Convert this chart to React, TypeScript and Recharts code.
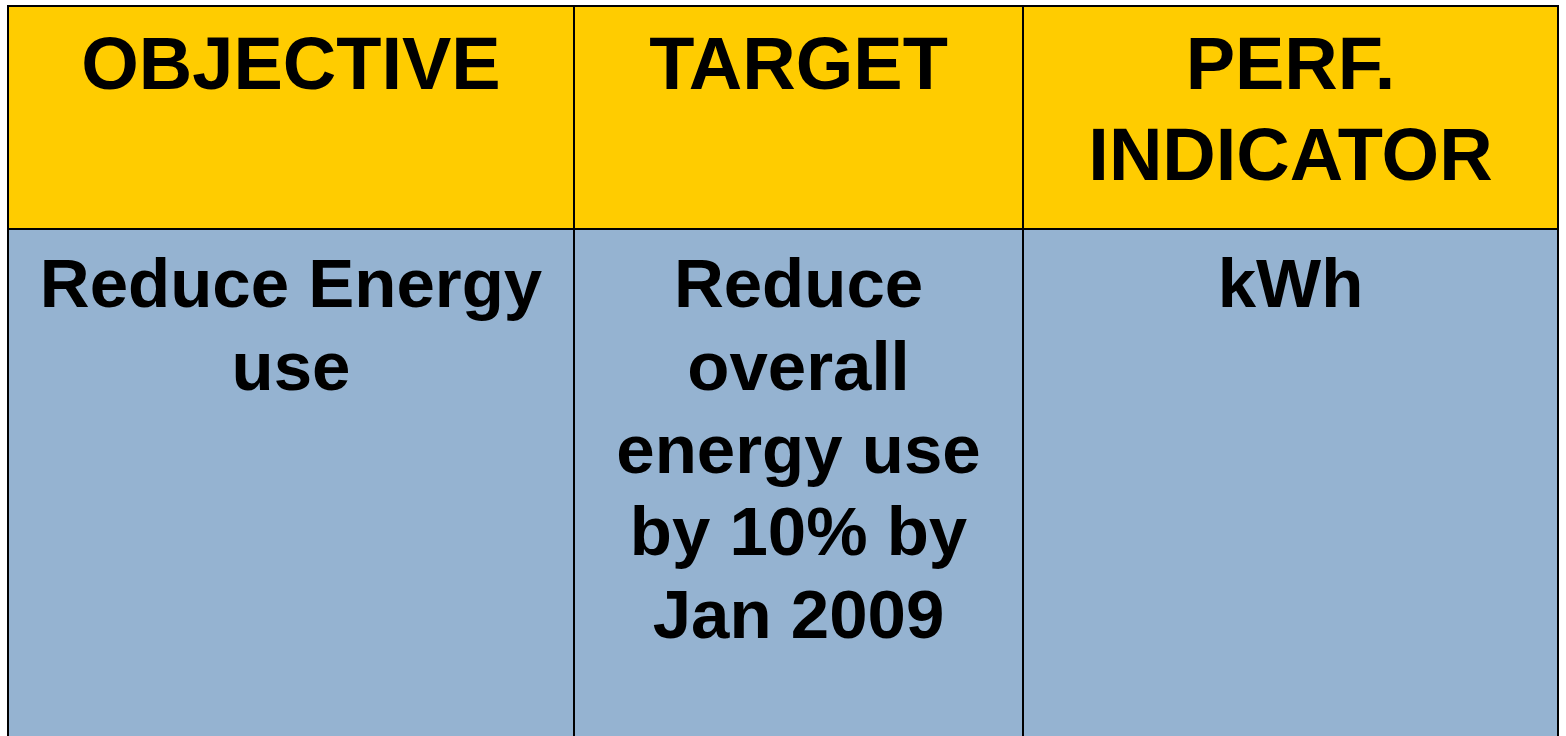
import React from 'react';
import { ComposedChart, XAxis, YAxis, ReferenceArea } from 'recharts';

// table structure: column titles, cell text (one entry per line), column widths and row heights
const columnTitles = [['OBJECTIVE'], ['TARGET'], ['PERF.', 'INDICATOR']];
const columnBody = [
  ['Reduce Energy', 'use'],
  ['Reduce', 'overall', 'energy use', 'by 10% by', 'Jan 2009'],
  ['kWh'],
];
const columnWidths = [566, 449, 535];
const rowHeights = [223, 520];

const FONT = '"Liberation Sans", Arial, sans-serif';

const CellText = ({ viewBox, lines, size, first, gap }: any) => {
  if (!viewBox) return null;
  const cx = viewBox.x + viewBox.width / 2;
  return (
    <text x={cx} y={viewBox.y + first} textAnchor="middle" fontFamily={FONT} fontWeight="bold" fontSize={size} fill="#000">
      {lines.map((l: string, i: number) => (
        <tspan key={i} x={cx} dy={i === 0 ? 0 : gap}>{l}</tspan>
      ))}
    </text>
  );
};

export default function App() {
  const edges = columnWidths.reduce((acc: number[], w) => [...acc, acc[acc.length - 1] + w], [0]);
  const totalW = edges[edges.length - 1];
  const headerEnd = rowHeights[0];
  const bodyEnd = rowHeights[0] + rowHeights[1];

  return (
    <div style={{ position: 'absolute', left: 0, top: 0, width: 1566, height: 736, background: '#fff' }}>
      <ComposedChart width={1566} height={736} margin={{ top: 6, left: 8, right: 8, bottom: 0 }} data={[]}>
        <XAxis type="number" dataKey="x" domain={[0, totalW]} hide allowDataOverflow />
        <YAxis type="number" dataKey="y" domain={[0, 730]} reversed hide allowDataOverflow />
        {columnTitles.map((lines, i) => (
          <ReferenceArea
            key={`h-${i}`}
            x1={edges[i]}
            x2={edges[i + 1]}
            y1={0}
            y2={headerEnd}
            ifOverflow="visible"
            fill="#FFCC00"
            fillOpacity={1}
            stroke="#000"
            strokeWidth={2}
            label={<CellText lines={lines} size={74} first={83} gap={91} />}
          />
        ))}
        {columnBody.map((lines, i) => (
          <ReferenceArea
            key={`b-${i}`}
            x1={edges[i]}
            x2={edges[i + 1]}
            y1={headerEnd}
            y2={bodyEnd}
            ifOverflow="visible"
            fill="#95B3D1"
            fillOpacity={1}
            stroke="#000"
            strokeWidth={2}
            label={<CellText lines={lines} size={69} first={78} gap={82.75} />}
          />
        ))}
      </ComposedChart>
    </div>
  );
}
